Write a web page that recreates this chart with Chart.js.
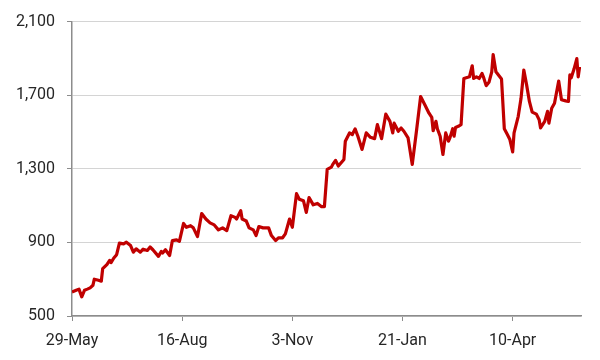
<!DOCTYPE html>
<html>
<head>
<meta charset="utf-8">
<script src="https://cdn.jsdelivr.net/npm/chart.js@4.4.1/dist/chart.umd.min.js"></script>
<style>
  html, body { margin: 0; padding: 0; background: #fff; }
  #wrap { width: 600px; height: 360px; }
</style>
</head>
<body>
<div id="wrap"><canvas id="priceChart" width="600" height="360"></canvas></div>
<script>
// Hari ke- sejak 29-May (sumbu X) dan nilai harga
var DAYS = [
  0, 3, 5, 7, 9, 11, 13, 15, 16, 19, 21, 22, 25, 27, 28, 30, 32, 34, 37, 39,
  42, 44, 46, 49, 51, 54, 56, 58, 62, 64, 65, 67, 70, 72, 75, 77, 80, 82, 85, 87,
  90, 93, 96, 99, 102, 105, 108, 111, 114, 117, 118, 121, 122, 125, 127, 130, 132, 134, 137, 141,
  143, 146, 148, 151, 153, 156, 158, 161, 163, 166, 168, 170, 173, 176, 179, 181, 183, 186, 187, 189,
  191, 193, 195, 196, 199, 201, 203, 205, 208, 211, 214, 217, 219, 222, 225, 228, 230, 231, 234, 236,
  238, 241, 244, 247, 250, 253, 256, 258, 259, 261, 262, 264, 266, 268, 270, 271, 273, 274, 275, 277,
  279, 281, 285, 287, 288, 290, 292, 294, 295, 297, 299, 301, 302, 304, 308, 310, 312, 314, 316, 317,
  320, 322, 324, 326, 328, 330, 333, 335, 336, 339, 341, 342, 344, 346, 349, 351, 354, 356, 357, 358,
  360, 362, 363, 364
];
var VALUES = [
  631, 640, 646, 604, 640, 646, 653, 667, 700, 694, 689, 757, 779, 802, 790, 815, 833, 896, 892, 901,
  883, 847, 865, 847, 863, 856, 875, 860, 824, 851, 842, 860, 829, 910, 914, 906, 1003, 982, 991, 979,
  932, 1057, 1027, 1006, 995, 968, 979, 964, 1045, 1036, 1027, 1072, 1027, 1016, 979, 968, 937, 986, 979, 979,
  937, 910, 925, 925, 946, 1027, 982, 1165, 1135, 1126, 1063, 1144, 1104, 1112, 1094, 1094, 1297, 1309, 1324, 1346,
  1315, 1333, 1351, 1450, 1495, 1486, 1517, 1477, 1405, 1495, 1471, 1464, 1540, 1464, 1597, 1558, 1495, 1548, 1504, 1522,
  1504, 1468, 1324, 1504, 1693, 1648, 1602, 1579, 1507, 1558, 1518, 1477, 1378, 1495, 1450, 1468, 1518, 1477, 1525, 1531,
  1540, 1791, 1800, 1860, 1791, 1800, 1791, 1818, 1800, 1752, 1770, 1827, 1921, 1827, 1788, 1518, 1489, 1459, 1392, 1495,
  1585, 1683, 1837, 1756, 1666, 1608, 1597, 1567, 1522, 1558, 1612, 1548, 1629, 1656, 1777, 1675, 1669, 1666, 1810, 1795,
  1842, 1899, 1800, 1854
];

// Label sumbu X tiap 79 hari
var TICK_DAYS = [0, 79, 158, 237, 316];
var TICK_LABELS = ['29-May', '16-Aug', '3-Nov', '21-Jan', '10-Apr'];
var Y_TICKS = [500, 900, 1300, 1700, 2100];

var points = DAYS.map(function (d, i) { return { x: d, y: VALUES[i] }; });

var ctx = document.getElementById('priceChart').getContext('2d');
new Chart(ctx, {
    type: 'line',
    data: {
        datasets: [{
            data: points,
            borderColor: '#c00000',
            borderWidth: 3.2,
            borderJoinStyle: 'round',
            pointRadius: 0,
            tension: 0,
            fill: false
        }]
    },
    options: {
        responsive: false,
        animation: false,
        layout: { padding: { top: 19, right: 19, left: 0, bottom: 0 } },
        plugins: {
            legend: { display: false },
            tooltip: { enabled: false }
        },
        scales: {
            x: {
                type: 'linear',
                min: 0,
                max: 365,
                afterBuildTicks: function (scale) {
                    scale.ticks = TICK_DAYS.map(function (v) { return { value: v }; });
                },
                afterFit: function (scale) { scale.height = 44; },
                grid: { drawOnChartArea: false, drawTicks: true, tickLength: 5, tickColor: '#8c8c8c' },
                border: { color: '#8c8c8c', width: 1.5 },
                ticks: {
                    autoSkip: false,
                    maxRotation: 0,
                    padding: 10,
                    color: '#262626',
                    font: { family: 'Roboto', size: 16 },
                    callback: function (v) {
                        var i = TICK_DAYS.indexOf(v);
                        return i >= 0 ? TICK_LABELS[i] : '';
                    }
                }
            },
            y: {
                min: 500,
                max: 2100,
                afterBuildTicks: function (scale) {
                    scale.ticks = Y_TICKS.map(function (v) { return { value: v }; });
                },
                afterFit: function (scale) { scale.width = 72; },
                grid: { color: '#d4d4d4', lineWidth: 1, tickLength: 5, tickColor: '#8c8c8c' },
                border: { color: '#8c8c8c', width: 1.5 },
                ticks: {
                    padding: 12,
                    color: '#262626',
                    font: { family: 'Roboto', size: 16 },
                    callback: function (v) { return v.toLocaleString('en-US'); }
                }
            }
        }
    }
});
</script>
</body>
</html>
